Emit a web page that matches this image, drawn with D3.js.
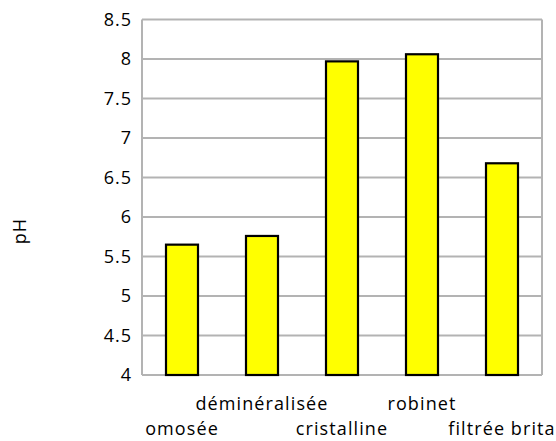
<!DOCTYPE html>
<html><head><meta charset="utf-8">
<script src="https://cdn.jsdelivr.net/npm/d3@7"></script>
<style>body{margin:0;background:#fff}svg{display:block}text{font-family:"Open Sans",sans-serif;fill:#000}</style>
</head><body>
<svg id="c" width="556" height="441"></svg>
<script>
const categories = ["omosée", "déminéralisée", "cristalline", "robinet", "filtrée brita"];
const phValues = [5.65, 5.76, 7.97, 8.06, 6.68];
const tickValues = [4, 4.5, 5, 5.5, 6, 6.5, 7, 7.5, 8, 8.5];
const axisTitle = "pH";

const svg = d3.select("#c");
const m = {left: 142, right: 542, top: 19.5, bottom: 375};
const x = d3.scaleBand().domain(categories).range([m.left, m.right]).paddingInner(0.6).paddingOuter(0.3);
const y = d3.scaleLinear().domain([4, 8.5]).range([m.bottom, m.top]);

// gridlines
svg.append("g").selectAll("line").data(tickValues).join("line")
  .attr("x1", m.left).attr("x2", m.right)
  .attr("y1", d => y(d)).attr("y2", d => y(d))
  .attr("stroke", "#b3b3b3").attr("stroke-width", 2);
// plot sides
svg.append("line").attr("x1", m.left).attr("x2", m.left).attr("y1", m.top).attr("y2", m.bottom).attr("stroke", "#b3b3b3").attr("stroke-width", 2);
svg.append("line").attr("x1", m.right).attr("x2", m.right).attr("y1", m.top).attr("y2", m.bottom).attr("stroke", "#b3b3b3").attr("stroke-width", 2);

// y axis labels
const yAxis = d3.axisLeft(y).tickValues(tickValues).tickSize(0).tickPadding(10).tickFormat(d3.format("~g"));
const ga = svg.append("g").attr("transform", `translate(${m.left},0)`).call(yAxis);
ga.select(".domain").remove();
ga.selectAll("text").attr("font-family", "Open Sans").attr("font-size", 18).attr("letter-spacing", "1px").attr("fill", "#000");

// bars
svg.append("g").selectAll("rect").data(phValues).join("rect")
  .attr("x", (d, i) => x(categories[i]))
  .attr("width", x.bandwidth())
  .attr("y", d => y(d))
  .attr("height", d => y(4) - y(d))
  .attr("fill", "#ffff00").attr("stroke", "#000").attr("stroke-width", 2.2);

// category labels (staggered)
svg.append("g").selectAll("text").data(categories).join("text")
  .attr("x", d => x(d) + x.bandwidth() / 2)
  .attr("y", (d, i) => i % 2 === 0 ? 435 : 410)
  .attr("text-anchor", "middle")
  .attr("font-size", 18).attr("letter-spacing", "1.1px")
  .text(d => d);

// axis title
svg.append("text").attr("transform", "translate(26,231) rotate(-90)")
  .attr("text-anchor", "middle").attr("font-size", 18).attr("letter-spacing", "1px").text(axisTitle);
</script>
</body></html>
